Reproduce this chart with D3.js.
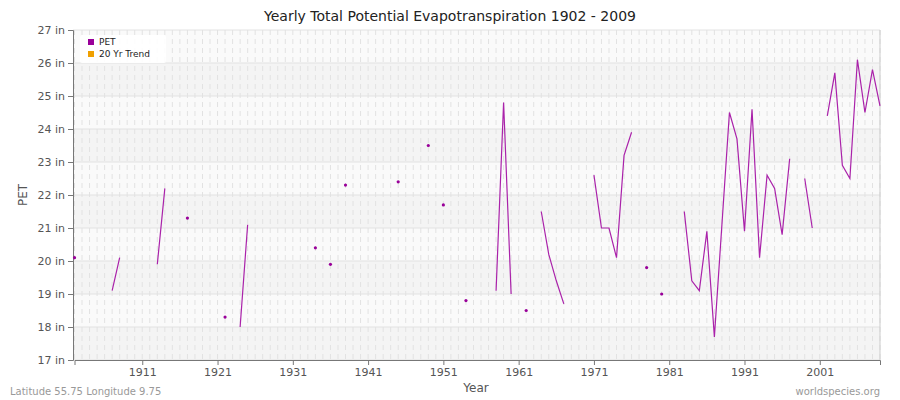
<!DOCTYPE html>
<html><head><meta charset="utf-8">
<script src="https://cdn.jsdelivr.net/npm/d3@7"></script>
<style>body{margin:0;background:#fff}text{font-family:"DejaVu Sans",sans-serif}</style>
</head><body><div id="plot"></div>
<script>
// yearly PET, null = missing
let years = d3.range(1902, 2010);
let pet = {
  1902:20.1, 1907:19.1, 1908:20.1, 1913:19.9, 1914:22.2, 1917:21.3, 1922:18.3,
  1924:18.0, 1925:21.1, 1934:20.4, 1936:19.9, 1938:22.3, 1945:22.4, 1949:23.5,
  1951:21.7, 1954:18.8, 1958:19.1, 1959:24.8, 1960:19.0, 1962:18.5,
  1964:21.5, 1965:20.2, 1966:19.4, 1967:18.7,
  1971:22.6, 1972:21.0, 1973:21.0, 1974:20.1, 1975:23.2, 1976:23.9,
  1978:19.8, 1980:19.0,
  1983:21.5, 1984:19.4, 1985:19.1, 1986:20.9, 1987:17.7, 1988:21.1, 1989:24.5,
  1990:23.7, 1991:20.9, 1992:24.6, 1993:20.1, 1994:22.6, 1995:22.2, 1996:20.8, 1997:23.1,
  1999:22.5, 2000:21.0,
  2002:24.4, 2003:25.7, 2004:22.9, 2005:22.5, 2006:26.1, 2007:24.5, 2008:25.8, 2009:24.7
};
let yTicks = d3.range(17, 28);
let xTicks = [1911, 1921, 1931, 1941, 1951, 1961, 1971, 1981, 1991, 2001];

let data = years.map(y => ({year: y, v: pet[y] === undefined ? null : pet[y]}));

let margin = {top: 30, right: 20, bottom: 40, left: 73};
let width = 900, height = 400;

let x = d3.scaleLinear().domain([1902, 2009]).range([margin.left + 1.5, 880]);
let y = d3.scaleLinear().domain([17, 27]).range([360, 30]);

let svg = d3.select('#plot').append('svg').attr('width', width).attr('height', height);

// bands
svg.selectAll('rect.band').data(d3.range(17, 27)).enter().append('rect')
  .attr('x', margin.left).attr('width', 880 - margin.left)
  .attr('y', d => y(d + 1)).attr('height', d => y(d) - y(d + 1))
  .attr('fill', d => d % 2 ? '#f4f4f4' : '#fafafa');

// vertical dashed grid per year
svg.selectAll('line.vg').data(years).enter().append('line')
  .attr('x1', d => x(d)).attr('x2', d => x(d)).attr('y1', 30).attr('y2', 360)
  .attr('stroke', '#e2e2e2').attr('stroke-dasharray', '5,4');

// horizontal grid
svg.selectAll('line.hg').data(yTicks).enter().append('line')
  .attr('x1', margin.left).attr('x2', 880).attr('y1', d => y(d)).attr('y2', d => y(d))
  .attr('stroke', '#e2e2e2');

// axes
let yAxis = svg.append('g').attr('transform', `translate(${margin.left},0)`)
  .call(d3.axisLeft(y).tickValues(yTicks).tickFormat(d => d + ' in').tickSize(5));
let xAxis = svg.append('g').attr('transform', 'translate(0,360)')
  .call(d3.axisBottom(x).tickValues(xTicks).tickFormat(d3.format('d')).tickSize(5));
[xAxis, yAxis].forEach(g => {
  g.selectAll('text').attr('fill', '#555').style('font-size', '11px');
  g.selectAll('line').attr('stroke', '#777');
  g.select('.domain').attr('stroke', '#777');
});
svg.append('line').attr('x1', 880).attr('x2', 880).attr('y1', 30).attr('y2', 360).attr('stroke', '#ccc');

// line with gaps
let line = d3.line().defined(d => d.v !== null).x(d => x(d.year)).y(d => y(d.v));
svg.append('path').datum(data).attr('d', line)
  .attr('fill', 'none').attr('stroke', '#aa22aa').attr('stroke-width', 1.2);

// isolated points
let lone = data.filter((d, i) => d.v !== null &&
  (i === 0 || data[i - 1].v === null) && (i === data.length - 1 || data[i + 1].v === null));
svg.selectAll('circle').data(lone).enter().append('circle')
  .attr('cx', d => x(d.year)).attr('cy', d => y(d.v)).attr('r', 1.6).attr('fill', '#990099');

// titles
svg.append('text').attr('x', 450).attr('y', 21).attr('text-anchor', 'middle')
  .style('font-size', '14px').attr('fill', '#222').text('Yearly Total Potential Evapotranspiration 1902 - 2009');
svg.append('text').attr('x', 476).attr('y', 392).attr('text-anchor', 'middle')
  .style('font-size', '12px').attr('fill', '#555').text('Year');
svg.append('text').attr('transform', 'translate(27,195) rotate(-90)').attr('text-anchor', 'middle')
  .style('font-size', '12px').attr('fill', '#555').text('PET');
svg.append('text').attr('x', 10).attr('y', 395).style('font-size', '10px').attr('fill', '#999')
  .text('Latitude 55.75 Longitude 9.75');
svg.append('text').attr('x', 880).attr('y', 395).attr('text-anchor', 'end')
  .style('font-size', '10px').attr('fill', '#999').text('worldspecies.org');

// legend
let lg = svg.append('g').attr('transform', 'translate(80,35)');
lg.append('rect').attr('width', 86).attr('height', 28).attr('fill', '#fff').attr('opacity', 0.9).attr('rx', 2);
[['PET', '#990099'], ['20 Yr Trend', '#f0a000']].forEach((d, i) => {
  lg.append('rect').attr('x', 8).attr('y', 4 + i * 12).attr('width', 6).attr('height', 6).attr('fill', d[1]);
  lg.append('text').attr('x', 19).attr('y', 10 + i * 12).style('font-size', '9px').attr('fill', '#222').text(d[0]);
});
</script></body></html>
